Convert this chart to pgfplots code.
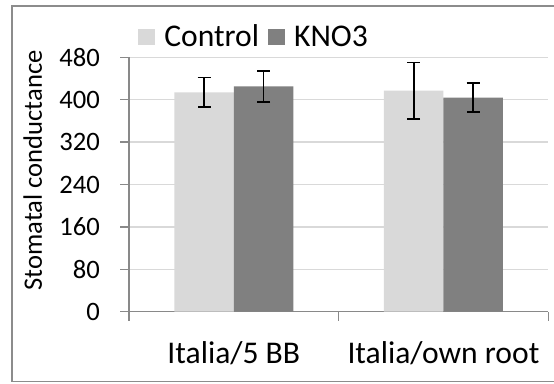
\documentclass[border=0pt]{standalone}
\usepackage{pgfplots}
\pgfplotsset{compat=1.18}
\usepackage{fontspec}
\setmainfont{Carlito}
\definecolor{ctrl}{HTML}{D9D9D9}
\definecolor{kno}{HTML}{808080}
\definecolor{axgray}{HTML}{898989}
\definecolor{gridgray}{HTML}{D9D9D9}
\definecolor{framegray}{HTML}{8C8C8C}
\newcommand{\tickfont}{\fontsize{26.6bp}{30bp}\selectfont}
\newcommand{\labfont}{\fontsize{31.6bp}{36bp}\selectfont}
\pgfplotstableread{
x y e
0 414 28
1 417 53
}\ctrltab
\pgfplotstableread{
x y e
0 425 29
1 404 27
}\knotab
\begin{document}
\begin{tikzpicture}[x=1bp,y=1bp]
\useasboundingbox (0,0) rectangle (554,383);
\fill[white] (0,0) rectangle (554,383);
\draw[framegray, line width=1.3bp] (12,377) rectangle (600,1.3);
\begin{axis}[
  at={(129bp,71.3bp)}, anchor=south west,
  scale only axis, width=419.3bp, height=254.4bp,
  ybar=0pt, bar width=59.5bp,
  xmin=-0.5, xmax=1.5, ymin=0, ymax=480,
  ytick={0,80,...,480},
  xtick={-0.5,0.5,1.5}, xticklabels={},
  extra x ticks={0,1},
  extra x tick labels={Italia/5 BB,Italia/own root},
  extra x tick style={major tick length=0pt, xmajorgrids=false,
    xticklabel style={anchor=base, inner sep=0pt, yshift=-51.6bp, font=\labfont}},
  axis x line*=bottom, axis y line*=left,
  axis line style={draw=axgray, line width=1.3bp, -},
  tick align=outside, major tick length=9bp,
  tick style={draw=axgray, line width=1.3bp},
  ymajorgrids, grid style={draw=gridgray, line width=1.3bp},
  /pgf/number format/assume math mode=true,
  yticklabel style={font=\tickfont, anchor=east, inner sep=0pt, xshift=-20bp},
  ylabel={Stomatal conductance},
  ylabel style={font=\tickfont, at={(axis description cs:-0.2075,0.555)}, anchor=base, inner sep=0pt},
  legend style={at={(0.0222,1.0354)}, anchor=south west, draw=none, fill=none,
    inner sep=0pt, outer sep=0pt, column sep=9bp,
    nodes={inner sep=0pt, font=\labfont, anchor=base west}},
  legend columns=2,
  legend image code/.code={\fill[#1] (0bp,1.6bp) rectangle (17bp,17.6bp);},
]
\addplot[fill=ctrl, draw=none,
  error bars/.cd, y dir=both, y explicit, error mark=|,
  error bar style={draw=black, line width=1.6bp},
  error mark options={draw=black, line width=1.6bp, mark size=6.5bp}]
  table[x=x, y=y, y error=e] {\ctrltab};
\addplot[fill=kno, draw=none,
  error bars/.cd, y dir=both, y explicit, error mark=|,
  error bar style={draw=black, line width=1.6bp},
  error mark options={draw=black, line width=1.6bp, mark size=6.5bp}]
  table[x=x, y=y, y error=e] {\knotab};
\legend{Control\hspace{4bp},KNO3}
\end{axis}
\end{tikzpicture}
\end{document}
